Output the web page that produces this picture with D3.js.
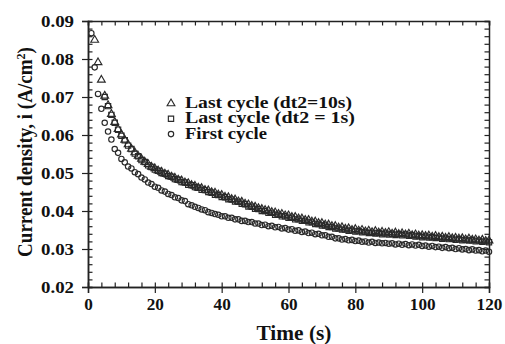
<!DOCTYPE html>
<html lang="en">
<head>
<meta charset="UTF-8">
<script src="https://d3js.org/d3.v7.min.js"></script>
<title>Current density vs time</title>
<style>
  body { margin: 0; background: #fff; }
  svg text { font-family: "Liberation Serif", "Times New Roman", serif; font-weight: bold; fill: #111; }
  .tick-x text { font-size: 16.5px; }
  .tick-y text { font-size: 16.5px; }
  .axis path, .axis line { stroke: #222; }
</style>
</head>
<body>
<svg id="chart"></svg>
<script>
// time stamps (s)
const times = [
  1, 2, 3, 4, 5, 6, 7, 8, 9, 10,
  11, 12, 13, 14, 15, 16, 17, 18, 19, 20,
  21, 22, 23, 24, 25, 26, 27, 28, 29, 30,
  31, 32, 33, 34, 35, 36, 37, 38, 39, 40,
  41, 42, 43, 44, 45, 46, 47, 48, 49, 50,
  51, 52, 53, 54, 55, 56, 57, 58, 59, 60,
  61, 62, 63, 64, 65, 66, 67, 68, 69, 70,
  71, 72, 73, 74, 75, 76, 77, 78, 79, 80,
  81, 82, 83, 84, 85, 86, 87, 88, 89, 90,
  91, 92, 93, 94, 95, 96, 97, 98, 99, 100,
  101, 102, 103, 104, 105, 106, 107, 108, 109, 110,
  111, 112, 113, 114, 115, 116, 117, 118, 119, 120
];

// First cycle (circles)
const firstCycle = [
  0.0868, 0.0778, 0.0708, 0.0669, 0.0632, 0.0609, 0.0588, 0.0563, 0.0553, 0.0537,
  0.0528, 0.0517, 0.0512, 0.0502, 0.0497, 0.0488, 0.0483, 0.0475, 0.0471, 0.0464,
  0.0461, 0.0454, 0.0451, 0.0445, 0.0442, 0.0436, 0.0434, 0.0428, 0.0426, 0.0418,
  0.0415, 0.0411, 0.0408, 0.0404, 0.0402, 0.0397, 0.0395, 0.0392, 0.0390, 0.0386,
  0.0386, 0.0382, 0.0382, 0.0378, 0.0378, 0.0374, 0.0374, 0.0371, 0.0371, 0.0367,
  0.0367, 0.0363, 0.0364, 0.0360, 0.0361, 0.0357, 0.0358, 0.0354, 0.0355, 0.0351,
  0.0352, 0.0348, 0.0349, 0.0345, 0.0346, 0.0342, 0.0343, 0.0339, 0.0340, 0.0336,
  0.0336, 0.0332, 0.0332, 0.0328, 0.0328, 0.0325, 0.0326, 0.0323, 0.0324, 0.0321,
  0.0322, 0.0319, 0.0320, 0.0317, 0.0319, 0.0316, 0.0317, 0.0315, 0.0316, 0.0314,
  0.0315, 0.0312, 0.0314, 0.0311, 0.0313, 0.0310, 0.0312, 0.0309, 0.0311, 0.0308,
  0.0309, 0.0306, 0.0308, 0.0305, 0.0306, 0.0303, 0.0305, 0.0302, 0.0303, 0.0300,
  0.0302, 0.0299, 0.0300, 0.0297, 0.0299, 0.0296, 0.0297, 0.0294, 0.0296, 0.0293
];

// Last cycle, dt2 = 1s (squares)
const lastCycle1s = [
  null, null, null, null, 0.0700, 0.0676, 0.0653, 0.0632, 0.0614, 0.0598,
  0.0586, 0.0572, 0.0563, 0.0551, 0.0544, 0.0534, 0.0529, 0.0520, 0.0516, 0.0509,
  0.0506, 0.0500, 0.0498, 0.0492, 0.0490, 0.0484, 0.0482, 0.0476, 0.0475, 0.0469,
  0.0468, 0.0463, 0.0461, 0.0456, 0.0455, 0.0450, 0.0448, 0.0443, 0.0442, 0.0437,
  0.0436, 0.0431, 0.0430, 0.0425, 0.0424, 0.0419, 0.0418, 0.0412, 0.0411, 0.0406,
  0.0405, 0.0400, 0.0400, 0.0395, 0.0395, 0.0390, 0.0390, 0.0386, 0.0386, 0.0382,
  0.0382, 0.0378, 0.0378, 0.0374, 0.0374, 0.0370, 0.0370, 0.0366, 0.0366, 0.0362,
  0.0362, 0.0358, 0.0358, 0.0354, 0.0354, 0.0351, 0.0351, 0.0348, 0.0349, 0.0346,
  0.0347, 0.0344, 0.0345, 0.0342, 0.0343, 0.0341, 0.0342, 0.0339, 0.0341, 0.0338,
  0.0340, 0.0337, 0.0339, 0.0336, 0.0338, 0.0335, 0.0336, 0.0333, 0.0334, 0.0331,
  0.0333, 0.0330, 0.0331, 0.0329, 0.0330, 0.0327, 0.0328, 0.0326, 0.0327, 0.0324,
  0.0326, 0.0323, 0.0324, 0.0322, 0.0323, 0.0320, 0.0322, 0.0319, 0.0320, 0.0318
];

// Last cycle, dt2 = 10s (triangles)
const lastCycle10s = [
  null, 0.0850, 0.0791, 0.0745, 0.0703, 0.0678, 0.0655, 0.0634, 0.0615, 0.0601,
  0.0587, 0.0575, 0.0563, 0.0554, 0.0545, 0.0537, 0.0529, 0.0523, 0.0516, 0.0512,
  0.0506, 0.0503, 0.0498, 0.0495, 0.0490, 0.0487, 0.0482, 0.0480, 0.0475, 0.0473,
  0.0468, 0.0466, 0.0461, 0.0460, 0.0455, 0.0454, 0.0449, 0.0448, 0.0443, 0.0442,
  0.0437, 0.0436, 0.0431, 0.0430, 0.0425, 0.0424, 0.0419, 0.0417, 0.0413, 0.0411,
  0.0407, 0.0405, 0.0402, 0.0401, 0.0397, 0.0396, 0.0392, 0.0392, 0.0388, 0.0388,
  0.0384, 0.0384, 0.0380, 0.0380, 0.0376, 0.0376, 0.0372, 0.0372, 0.0368, 0.0368,
  0.0364, 0.0364, 0.0360, 0.0360, 0.0356, 0.0357, 0.0353, 0.0354, 0.0350, 0.0352,
  0.0348, 0.0350, 0.0346, 0.0348, 0.0344, 0.0347, 0.0343, 0.0345, 0.0342, 0.0344,
  0.0340, 0.0343, 0.0339, 0.0341, 0.0338, 0.0340, 0.0336, 0.0338, 0.0335, 0.0336,
  0.0334, 0.0335, 0.0332, 0.0334, 0.0331, 0.0332, 0.0329, 0.0331, 0.0328, 0.0329,
  0.0327, 0.0328, 0.0325, 0.0327, 0.0324, 0.0325, 0.0322, 0.0324, 0.0321, 0.0322
];

const xTicks = [0, 20, 40, 60, 80, 100, 120];
const yTicks = [0.02, 0.03, 0.04, 0.05, 0.06, 0.07, 0.08, 0.09];
const legendLabels = ["Last cycle (dt2=10s)", "Last cycle (dt2 = 1s)", "First cycle"];

const w = 505, h = 344;
const plotL = 88, plotR = 489, plotT = 21, plotB = 287;
const ink = "#2a2a2a";

const x = d3.scaleLinear().domain([0, 120]).range([plotL, plotR]);
const y = d3.scaleLinear().domain([0.02, 0.09]).range([plotB, plotT]);

const svg = d3.select("#chart").attr("width", w).attr("height", h);

// minor ticks, all pointing inward on the four sides
const xMinor = d3.range(0, 121, 4);
const yMinor = d3.range(0, 36).map(i => 0.02 + i * 0.002);

function styleAxis(g) {
  g.attr("class", "axis");
  g.select(".domain").attr("stroke-width", 1.5);
  g.selectAll(".tick line").attr("stroke-width", 1.2);
}

svg.append("g").attr("transform", `translate(0,${plotB})`)
  .call(d3.axisBottom(x).tickValues(xMinor).tickSize(-4.5).tickFormat("")).call(styleAxis);
svg.append("g").attr("transform", `translate(0,${plotT})`)
  .call(d3.axisTop(x).tickValues(xMinor).tickSize(-4.5).tickFormat("")).call(styleAxis);
svg.append("g").attr("transform", `translate(${plotL},0)`)
  .call(d3.axisLeft(y).tickValues(yMinor).tickSize(-4.5).tickFormat("")).call(styleAxis);
svg.append("g").attr("transform", `translate(${plotR},0)`)
  .call(d3.axisRight(y).tickValues(yMinor).tickSize(-4.5).tickFormat("")).call(styleAxis);

// major ticks with labels
const xAxis = svg.append("g").attr("transform", `translate(0,${plotB})`)
  .call(d3.axisBottom(x).tickValues(xTicks).tickSize(6).tickPadding(5))
  .call(styleAxis);
xAxis.classed("tick-x", true);

const yAxis = svg.append("g").attr("transform", `translate(${plotL},0)`)
  .call(d3.axisLeft(y).tickValues(yTicks).tickSize(6).tickPadding(8).tickFormat(d3.format(".2f")))
  .call(styleAxis);
yAxis.classed("tick-y", true);

// the original glyphs are wider than Liberation Serif: fix widths with textLength
function fit(sel, len) {
  sel.attr("textLength", len).attr("lengthAdjust", "spacingAndGlyphs");
}
fit(yAxis.selectAll("text"), 33);
xAxis.selectAll("text").each(function(d) {
  fit(d3.select(this), String(d).length * 8.6);
});

// data points
const pts = vals => times.map((t, i) => [t, vals[i]]).filter(d => d[1] != null);

svg.append("g").selectAll("circle")
  .data(pts(firstCycle)).enter().append("circle")
  .attr("cx", d => x(d[0])).attr("cy", d => y(d[1])).attr("r", 2.7)
  .attr("fill", "none").attr("stroke", ink).attr("stroke-width", 1.15);

const square = d3.symbol().type(d3.symbolSquare).size(28);
const triangle = d3.symbol().type(d3.symbolTriangle).size(26);

svg.append("g").selectAll("path")
  .data(pts(lastCycle1s)).enter().append("path")
  .attr("d", square)
  .attr("transform", d => `translate(${x(d[0])},${y(d[1])})`)
  .attr("fill", "none").attr("stroke", ink).attr("stroke-width", 1.15);

svg.append("g").selectAll("path")
  .data(pts(lastCycle10s)).enter().append("path")
  .attr("d", triangle)
  .attr("transform", d => `translate(${x(d[0])},${y(d[1])})`)
  .attr("fill", "none").attr("stroke", ink).attr("stroke-width", 1.15);

// axis titles
const xTitle = svg.append("text")
  .attr("x", 294).attr("y", 340).attr("text-anchor", "middle")
  .style("font-size", "20px").text("Time (s)");
fit(xTitle, 75);

// y title: squeeze the whole label (with its superscript) to the reference length
const yTitleG = svg.append("g");
const yTitle = yTitleG.append("text")
  .attr("text-anchor", "middle")
  .style("font-size", "20.5px");
yTitle.append("tspan").text("Current density, i (A/cm");
yTitle.append("tspan").attr("dy", -7).style("font-size", "13px").text("2");
yTitle.append("tspan").attr("dy", 7).text(")");
const yTitleLen = yTitle.node().getBBox().width;
yTitleG.attr("transform", `translate(32,152) rotate(-90) scale(${210 / yTitleLen},1)`);

// legend
const legend = svg.append("g");
const legendMarks = [triangle, square, null];
const legendWidths = [167, 170, 82];
legendLabels.forEach((label, i) => {
  const cy = 103.5 + i * 15.3;
  if (legendMarks[i]) {
    legend.append("path").attr("d", legendMarks[i])
      .attr("transform", `translate(171,${cy})`)
      .attr("fill", "none").attr("stroke", ink).attr("stroke-width", 1.15);
  } else {
    legend.append("circle").attr("cx", 171).attr("cy", cy).attr("r", 2.7)
      .attr("fill", "none").attr("stroke", ink).attr("stroke-width", 1.15);
  }
  const t = legend.append("text").attr("x", 185).attr("y", cy + 4.5)
    .style("font-size", "16px").text(label);
  fit(t, legendWidths[i]);
});
</script>
</body>
</html>
